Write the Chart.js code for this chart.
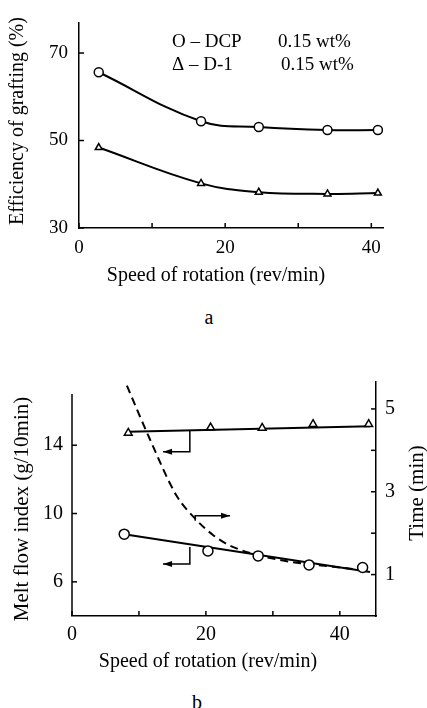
<!DOCTYPE html>
<html>
<head>
<meta charset="utf-8">
<script src="https://cdn.jsdelivr.net/npm/chart.js@4.4.0/dist/chart.umd.min.js"></script>
<style>
    body { margin: 0; background: #fff; width: 427px; height: 708px; overflow: hidden; position: relative; }
    canvas { position: absolute; left: 0; }
    #chartA { top: 0; }
    #chartB { top: 340px; }
    .cap { position: absolute; font-family: 'Liberation Serif', serif; font-size: 20px; line-height: 24px; transform: translateX(-50%); }
</style>
</head>
<body>
<canvas id="chartA" width="427" height="300"></canvas>
<div class="cap" style="left:209px; top:305px;">a</div>
<canvas id="chartB" width="427" height="340"></canvas>
<div class="cap" style="left:197px; top:690px;">b</div>

<script>
// --- chart a: grafting efficiency vs speed ---
const speedA = [2.7, 16.7, 24.6, 34.0, 40.9];
const dcpGrafting = [65.6, 54.4, 53.1, 52.4, 52.4];
const d1Grafting = [48.4, 40.2, 38.2, 37.8, 38.0];
const xTicksA = [0, 10, 20, 30, 40];
const xLabelsA = [0, 20, 40];
const yTicksA = [30, 50, 70];
const legendNames = ['O – DCP', 'Δ – D-1'];
const legendConc = ['0.15 wt%', '0.15 wt%'];

// --- chart b: melt flow index / time vs speed ---
const speedCircB = [7.8, 20.3, 27.8, 35.4, 43.4];
const mfiCirc = [8.79, 7.81, 7.52, 6.99, 6.84];
const speedTriB = [8.4, 20.7, 28.4, 36.0, 44.3];
const mfiTri = [14.72, 15.03, 15.01, 15.23, 15.23];
const fitSpeedCirc = [7.8, 44.5];
const fitCirc = [8.79, 6.57];
const fitSpeedTri = [8.4, 44.5];
const fitTri = [14.78, 15.11];
const timeSpeed = [8.2, 11.6, 15.6, 18.4, 21.1, 24.0, 31.5, 39.0, 44.0];
const timeVals = [5.56, 4.28, 2.91, 2.35, 1.95, 1.67, 1.34, 1.19, 1.10];
const xTicksB = [0, 10, 20, 30, 40];
const xLabelsB = [0, 20, 40];
const mfiTicks = [6, 10, 14];
const timeTicks = [1, 2, 3, 4, 5];
const timeLabels = [1, 3, 5];
// little bracket arrows telling which axis a curve belongs to
const arrowTri = [[17.6, 14.88], [17.6, 13.61], [13.6, 13.61]];
const arrowCirc = [[17.6, 8.04], [17.6, 7.05], [13.6, 7.05]];
const arrowTime = [[18.4, 2.30], [18.4, 2.42], [23.6, 2.42]];

const serif = "'Liberation Serif', 'DejaVu Serif', serif";
Chart.defaults.font.family = serif;
Chart.defaults.color = '#000';

const pts = (xs, ys) => xs.map((x, i) => ({ x: x, y: ys[i] }));

// ticks drawn into the plot area, like the printed figure
// (optionally also the left axis line, when it stops short of the plot top)
const inTicks = {
    id: 'inTicks',
    afterDatasetsDraw(chart, args, opts) {
        const { ctx, chartArea: ca } = chart;
        ctx.save();
        ctx.strokeStyle = '#000';
        ctx.lineWidth = 1.5;
        Object.values(chart.scales).forEach(s => {
            s.ticks.forEach(t => {
                const p = s.getPixelForValue(t.value);
                ctx.beginPath();
                if (s.isHorizontal()) {
                    ctx.moveTo(p, ca.bottom); ctx.lineTo(p, ca.bottom - 5);
                } else if (s.position === 'left') {
                    ctx.moveTo(ca.left, p); ctx.lineTo(ca.left + 5, p);
                } else {
                    ctx.moveTo(ca.right, p); ctx.lineTo(ca.right - 5, p);
                }
                ctx.stroke();
            });
        });
        if (opts.leftTop !== undefined) {
            const top = chart.scales.y.getPixelForValue(opts.leftTop);
            ctx.beginPath();
            ctx.moveTo(ca.left, ca.bottom);
            ctx.lineTo(ca.left, top);
            ctx.stroke();
        }
        ctx.restore();
    }
};

// axis titles and the legend text
const captions = {
    id: 'captions',
    afterDraw(chart, args, opts) {
        const ctx = chart.ctx;
        (opts.items || []).forEach(it => {
            ctx.save();
            ctx.font = it.size + 'px ' + serif;
            ctx.fillStyle = '#000';
            ctx.textAlign = it.align || 'center';
            ctx.textBaseline = 'middle';
            ctx.translate(it.x, it.y);
            if (it.rot) ctx.rotate(it.rot);
            ctx.fillText(it.text, 0, 0);
            ctx.restore();
        });
    }
};

const arrows = {
    id: 'arrows',
    afterDatasetsDraw(chart, args, opts) {
        const ctx = chart.ctx;
        const xs = chart.scales.x;
        (opts.paths || []).forEach(a => {
            const ys = chart.scales[a.axis];
            const p = a.pts.map(q => [xs.getPixelForValue(q[0]), ys.getPixelForValue(q[1])]);
            ctx.save();
            ctx.strokeStyle = '#000';
            ctx.fillStyle = '#000';
            ctx.lineWidth = 1.5;
            ctx.beginPath();
            ctx.moveTo(p[0][0], p[0][1]);
            p.slice(1).forEach(q => ctx.lineTo(q[0], q[1]));
            ctx.stroke();
            const end = p[p.length - 1], prev = p[p.length - 2];
            const ang = Math.atan2(end[1] - prev[1], end[0] - prev[0]);
            ctx.translate(end[0], end[1]);
            ctx.rotate(ang);
            ctx.beginPath();
            ctx.moveTo(0, 0);
            ctx.lineTo(-9, -3);
            ctx.lineTo(-9, 3);
            ctx.closePath();
            ctx.fill();
            ctx.restore();
        });
    }
};

const setTicks = list => scale => { scale.ticks = list.map(v => ({ value: v })); };
const onlyLabels = list => v => (list.includes(v) ? v : '');
const noGrid = { display: false, drawTicks: false };
const axisLine = { display: true, color: '#000', width: 1.5 };

new Chart(document.getElementById('chartA'), {
    type: 'scatter',
    data: {
        datasets: [
            {
                label: 'DCP',
                data: pts(speedA, dcpGrafting),
                showLine: true,
                tension: 0.4,
                borderColor: '#000',
                borderWidth: 2,
                pointStyle: 'circle',
                pointRadius: 4.5,
                pointBackgroundColor: '#fff',
                pointBorderColor: '#000',
                pointBorderWidth: 1.5
            },
            {
                label: 'D-1',
                data: pts(speedA, d1Grafting),
                showLine: true,
                tension: 0.4,
                borderColor: '#000',
                borderWidth: 2,
                pointStyle: 'triangle',
                pointRadius: 4,
                pointBackgroundColor: '#fff',
                pointBorderColor: '#000',
                pointBorderWidth: 1.5
            }
        ]
    },
    options: {
        responsive: false,
        animation: false,
        layout: { padding: { top: 15, right: 44, bottom: 0, left: 0 } },
        plugins: {
            legend: { display: false },
            tooltip: { enabled: false },
            captions: {
                items: [
                    { text: 'Efficiency of grafting (%)', x: 18, y: 121, rot: -Math.PI / 2, size: 20 },
                    { text: 'Speed of rotation (rev/min)', x: 216, y: 276, size: 20 },
                    { text: legendNames[0], x: 172, y: 42, align: 'left', size: 19 },
                    { text: legendConc[0], x: 278, y: 42, align: 'left', size: 19 },
                    { text: legendNames[1], x: 172, y: 65, align: 'left', size: 19 },
                    { text: legendConc[1], x: 281, y: 65, align: 'left', size: 19 }
                ]
            }
        },
        scales: {
            x: {
                type: 'linear',
                min: 0,
                max: 41.6,
                afterBuildTicks: setTicks(xTicksA),
                afterFit: s => { s.height = 72; },
                grid: noGrid,
                border: axisLine,
                ticks: { padding: 9, maxRotation: 0, font: { size: 19 }, callback: onlyLabels(xLabelsA) }
            },
            y: {
                min: 30,
                max: 77,
                afterBuildTicks: setTicks(yTicksA),
                afterFit: s => { s.width = 79; },
                grid: noGrid,
                border: axisLine,
                ticks: { padding: 11, font: { size: 19 } }
            }
        }
    },
    plugins: [inTicks, captions]
});

new Chart(document.getElementById('chartB'), {
    type: 'scatter',
    data: {
        datasets: [
            {
                label: 'MFI (triangles)',
                data: pts(speedTriB, mfiTri),
                yAxisID: 'y',
                pointStyle: 'triangle',
                pointRadius: 4.5,
                pointBackgroundColor: '#fff',
                pointBorderColor: '#000',
                pointBorderWidth: 1.5
            },
            {
                label: 'MFI (circles)',
                data: pts(speedCircB, mfiCirc),
                yAxisID: 'y',
                pointStyle: 'circle',
                pointRadius: 5,
                pointBackgroundColor: '#fff',
                pointBorderColor: '#000',
                pointBorderWidth: 1.5
            },
            {
                label: 'fit triangles',
                data: pts(fitSpeedTri, fitTri),
                yAxisID: 'y',
                showLine: true,
                borderColor: '#000',
                borderWidth: 2,
                pointRadius: 0
            },
            {
                label: 'fit circles',
                data: pts(fitSpeedCirc, fitCirc),
                yAxisID: 'y',
                showLine: true,
                borderColor: '#000',
                borderWidth: 2,
                pointRadius: 0
            },
            {
                label: 'Time',
                data: pts(timeSpeed, timeVals),
                yAxisID: 'y2',
                showLine: true,
                cubicInterpolationMode: 'monotone',
                borderColor: '#000',
                borderWidth: 2,
                borderDash: [8, 5],
                pointRadius: 0
            }
        ]
    },
    options: {
        responsive: false,
        animation: false,
        layout: { padding: { top: 42, right: 0, bottom: 0, left: 0 } },
        plugins: {
            legend: { display: false },
            tooltip: { enabled: false },
            inTicks: { leftTop: 17 },
            captions: {
                items: [
                    { text: 'Melt flow index (g/10min)', x: 22, y: 169, rot: -Math.PI / 2, size: 21 },
                    { text: 'Time (min)', x: 417, y: 153, rot: -Math.PI / 2, size: 21 },
                    { text: 'Speed of rotation (rev/min)', x: 208, y: 322, size: 20 }
                ]
            },
            arrows: {
                paths: [
                    { axis: 'y', pts: arrowTri },
                    { axis: 'y', pts: arrowCirc },
                    { axis: 'y2', pts: arrowTime }
                ]
            }
        },
        scales: {
            x: {
                type: 'linear',
                min: 0,
                max: 45.4,
                afterBuildTicks: setTicks(xTicksB),
                afterFit: s => { s.height = 64; },
                grid: noGrid,
                border: axisLine,
                ticks: { padding: 7, maxRotation: 0, font: { size: 20 }, callback: onlyLabels(xLabelsB) }
            },
            y: {
                position: 'left',
                min: 4,
                max: 17.7,
                afterBuildTicks: setTicks(mfiTicks),
                afterFit: s => { s.width = 72; },
                grid: noGrid,
                border: { display: false },
                ticks: { padding: 9, font: { size: 20 } }
            },
            y2: {
                position: 'right',
                min: 0,
                max: 5.65,
                afterBuildTicks: setTicks(timeTicks),
                afterFit: s => { s.width = 51; },
                grid: noGrid,
                border: axisLine,
                ticks: { padding: 9, font: { size: 20 }, callback: onlyLabels(timeLabels) }
            }
        }
    },
    plugins: [inTicks, captions, arrows]
});
</script>
</body>
</html>
